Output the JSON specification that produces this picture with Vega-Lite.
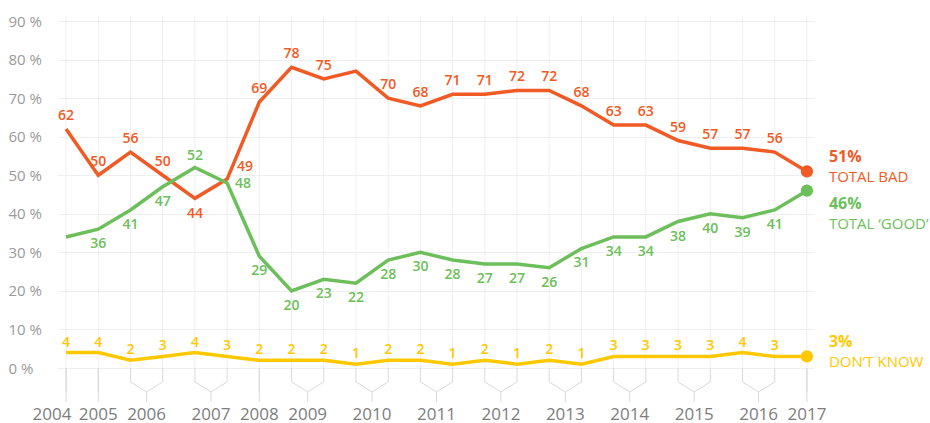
{
  "$schema": "https://vega.github.io/schema/vega-lite/v6.json",
  "width": 756,
  "height": 406,
  "autosize": {"type": "none"},
  "padding": {"left": 58, "top": 16, "right": 116, "bottom": 1},
  "background": "white",
  "config": {
    "view": {"stroke": null},
    "font": "Open Sans",
    "axisY": {
      "title": null, "domain": false, "ticks": false,
      "grid": true, "gridColor": "#efefef", "gridWidth": 1,
      "labelAlign": "left", "labelPadding": 50, "labelFontSize": 15,
      "labelColor": "#9a9a9a", "labelFont": "Open Sans", "labelBaseline": "middle"
    }
  },
  "datasets": {
    "series": [
      {"i": 0, "series": "TOTAL BAD", "value": 62}, {"i": 1, "series": "TOTAL BAD", "value": 50},
      {"i": 2, "series": "TOTAL BAD", "value": 56}, {"i": 3, "series": "TOTAL BAD", "value": 50},
      {"i": 4, "series": "TOTAL BAD", "value": 44}, {"i": 5, "series": "TOTAL BAD", "value": 49},
      {"i": 6, "series": "TOTAL BAD", "value": 69}, {"i": 7, "series": "TOTAL BAD", "value": 78},
      {"i": 8, "series": "TOTAL BAD", "value": 75}, {"i": 9, "series": "TOTAL BAD", "value": 77},
      {"i": 10, "series": "TOTAL BAD", "value": 70}, {"i": 11, "series": "TOTAL BAD", "value": 68},
      {"i": 12, "series": "TOTAL BAD", "value": 71}, {"i": 13, "series": "TOTAL BAD", "value": 71},
      {"i": 14, "series": "TOTAL BAD", "value": 72}, {"i": 15, "series": "TOTAL BAD", "value": 72},
      {"i": 16, "series": "TOTAL BAD", "value": 68}, {"i": 17, "series": "TOTAL BAD", "value": 63},
      {"i": 18, "series": "TOTAL BAD", "value": 63}, {"i": 19, "series": "TOTAL BAD", "value": 59},
      {"i": 20, "series": "TOTAL BAD", "value": 57}, {"i": 21, "series": "TOTAL BAD", "value": 57},
      {"i": 22, "series": "TOTAL BAD", "value": 56}, {"i": 23, "series": "TOTAL BAD", "value": 51},
      {"i": 0, "series": "TOTAL ‘GOOD’", "value": 34}, {"i": 1, "series": "TOTAL ‘GOOD’", "value": 36},
      {"i": 2, "series": "TOTAL ‘GOOD’", "value": 41}, {"i": 3, "series": "TOTAL ‘GOOD’", "value": 47},
      {"i": 4, "series": "TOTAL ‘GOOD’", "value": 52}, {"i": 5, "series": "TOTAL ‘GOOD’", "value": 48},
      {"i": 6, "series": "TOTAL ‘GOOD’", "value": 29}, {"i": 7, "series": "TOTAL ‘GOOD’", "value": 20},
      {"i": 8, "series": "TOTAL ‘GOOD’", "value": 23}, {"i": 9, "series": "TOTAL ‘GOOD’", "value": 22},
      {"i": 10, "series": "TOTAL ‘GOOD’", "value": 28}, {"i": 11, "series": "TOTAL ‘GOOD’", "value": 30},
      {"i": 12, "series": "TOTAL ‘GOOD’", "value": 28}, {"i": 13, "series": "TOTAL ‘GOOD’", "value": 27},
      {"i": 14, "series": "TOTAL ‘GOOD’", "value": 27}, {"i": 15, "series": "TOTAL ‘GOOD’", "value": 26},
      {"i": 16, "series": "TOTAL ‘GOOD’", "value": 31}, {"i": 17, "series": "TOTAL ‘GOOD’", "value": 34},
      {"i": 18, "series": "TOTAL ‘GOOD’", "value": 34}, {"i": 19, "series": "TOTAL ‘GOOD’", "value": 38},
      {"i": 20, "series": "TOTAL ‘GOOD’", "value": 40}, {"i": 21, "series": "TOTAL ‘GOOD’", "value": 39},
      {"i": 22, "series": "TOTAL ‘GOOD’", "value": 41}, {"i": 23, "series": "TOTAL ‘GOOD’", "value": 46},
      {"i": 0, "series": "DON’T KNOW", "value": 4}, {"i": 1, "series": "DON’T KNOW", "value": 4},
      {"i": 2, "series": "DON’T KNOW", "value": 2}, {"i": 3, "series": "DON’T KNOW", "value": 3},
      {"i": 4, "series": "DON’T KNOW", "value": 4}, {"i": 5, "series": "DON’T KNOW", "value": 3},
      {"i": 6, "series": "DON’T KNOW", "value": 2}, {"i": 7, "series": "DON’T KNOW", "value": 2},
      {"i": 8, "series": "DON’T KNOW", "value": 2}, {"i": 9, "series": "DON’T KNOW", "value": 1},
      {"i": 10, "series": "DON’T KNOW", "value": 2}, {"i": 11, "series": "DON’T KNOW", "value": 2},
      {"i": 12, "series": "DON’T KNOW", "value": 1}, {"i": 13, "series": "DON’T KNOW", "value": 2},
      {"i": 14, "series": "DON’T KNOW", "value": 1}, {"i": 15, "series": "DON’T KNOW", "value": 2},
      {"i": 16, "series": "DON’T KNOW", "value": 1}, {"i": 17, "series": "DON’T KNOW", "value": 3},
      {"i": 18, "series": "DON’T KNOW", "value": 3}, {"i": 19, "series": "DON’T KNOW", "value": 3},
      {"i": 20, "series": "DON’T KNOW", "value": 3}, {"i": 21, "series": "DON’T KNOW", "value": 4},
      {"i": 22, "series": "DON’T KNOW", "value": 3}, {"i": 23, "series": "DON’T KNOW", "value": 3}
    ],
    "years": [
      {"year": "2004", "from": 0, "to": 0}, {"year": "2005", "from": 1, "to": 1},
      {"year": "2006", "from": 2, "to": 3}, {"year": "2007", "from": 4, "to": 5},
      {"year": "2008", "from": 6, "to": 6}, {"year": "2009", "from": 7, "to": 8},
      {"year": "2010", "from": 9, "to": 10}, {"year": "2011", "from": 11, "to": 12},
      {"year": "2012", "from": 13, "to": 14}, {"year": "2013", "from": 15, "to": 16},
      {"year": "2014", "from": 17, "to": 18}, {"year": "2015", "from": 19, "to": 20},
      {"year": "2016", "from": 21, "to": 22}, {"year": "2017", "from": 23, "to": 23}
    ]
  },
  "layer": [
    {
      "data": {"name": "series"},
      "transform": [{"filter": "datum.series == 'DON’T KNOW'"}],
      "mark": {"type": "rule", "color": "#efefef", "strokeWidth": 1},
      "encoding": {
        "x": {"field": "i", "type": "quantitative", "scale": {"domain": [-0.25, 23.22], "nice": false, "zero": false}, "axis": null},
        "y": {
          "datum": 0, "type": "quantitative",
          "scale": {"domain": [-14, 91.3], "nice": false, "zero": false},
          "axis": {"values": [0, 10, 20, 30, 40, 50, 60, 70, 80, 90], "labelExpr": "datum.value + ' %'", "title": null}
        },
        "y2": {"datum": 91.3}
      }
    },
    {
      "data": {"name": "years"},
      "transform": [{"calculate": "(datum.from + datum.to) / 2", "as": "mid"}],
      "layer": [
        {
          "mark": {"type": "rule", "color": "#d9d9d9", "strokeWidth": 1},
          "encoding": {
            "x": {"field": "from", "type": "quantitative", "axis": null},
            "y": {"datum": 0, "type": "quantitative", "axis": {"values": [0, 10, 20, 30, 40, 50, 60, 70, 80, 90], "labelExpr": "datum.value + ' %'", "title": null}},
            "y2": {"datum": -3.6}
          }
        },
        {
          "mark": {"type": "rule", "color": "#d9d9d9", "strokeWidth": 1},
          "encoding": {
            "x": {"field": "to", "type": "quantitative", "axis": null},
            "y": {"datum": 0, "type": "quantitative", "axis": {"values": [0, 10, 20, 30, 40, 50, 60, 70, 80, 90], "labelExpr": "datum.value + ' %'", "title": null}},
            "y2": {"datum": -3.6}
          }
        },
        {
          "mark": {"type": "rule", "color": "#d9d9d9", "strokeWidth": 1},
          "encoding": {
            "x": {"field": "from", "type": "quantitative", "axis": null},
            "x2": {"field": "mid"},
            "y": {"datum": -3.6, "type": "quantitative", "axis": {"values": [0, 10, 20, 30, 40, 50, 60, 70, 80, 90], "labelExpr": "datum.value + ' %'", "title": null}},
            "y2": {"datum": -6.2}
          }
        },
        {
          "mark": {"type": "rule", "color": "#d9d9d9", "strokeWidth": 1},
          "encoding": {
            "x": {"field": "to", "type": "quantitative", "axis": null},
            "x2": {"field": "mid"},
            "y": {"datum": -3.6, "type": "quantitative", "axis": {"values": [0, 10, 20, 30, 40, 50, 60, 70, 80, 90], "labelExpr": "datum.value + ' %'", "title": null}},
            "y2": {"datum": -6.2}
          }
        },
        {
          "mark": {"type": "rule", "color": "#d9d9d9", "strokeWidth": 1},
          "encoding": {
            "x": {"field": "mid", "type": "quantitative", "axis": null},
            "y": {"datum": -6.2, "type": "quantitative", "axis": {"values": [0, 10, 20, 30, 40, 50, 60, 70, 80, 90], "labelExpr": "datum.value + ' %'", "title": null}},
            "y2": {"datum": -8.8}
          }
        },
        {
          "transform": [{"filter": "datum.year != '2004'"}],
          "mark": {"type": "text", "color": "#7d7d7d", "fontSize": 17, "baseline": "middle", "align": "center"},
          "encoding": {
            "x": {"field": "mid", "type": "quantitative", "axis": null},
            "y": {"datum": -12.2, "type": "quantitative", "axis": {"values": [0, 10, 20, 30, 40, 50, 60, 70, 80, 90], "labelExpr": "datum.value + ' %'", "title": null}},
            "text": {"field": "year"}
          }
        },
        {
          "transform": [{"filter": "datum.year == '2004'"}],
          "mark": {"type": "text", "color": "#7d7d7d", "fontSize": 17, "baseline": "middle", "align": "center", "dx": -14},
          "encoding": {
            "x": {"field": "mid", "type": "quantitative", "axis": null},
            "y": {"datum": -12.2, "type": "quantitative", "axis": {"values": [0, 10, 20, 30, 40, 50, 60, 70, 80, 90], "labelExpr": "datum.value + ' %'", "title": null}},
            "text": {"field": "year"}
          }
        }
      ]
    },
    {
      "data": {"name": "series"},
      "encoding": {
        "x": {"field": "i", "type": "quantitative", "axis": null},
        "y": {"field": "value", "type": "quantitative", "axis": {"values": [0, 10, 20, 30, 40, 50, 60, 70, 80, 90], "labelExpr": "datum.value + ' %'", "title": null}},
        "color": {
          "field": "series", "type": "nominal", "legend": null,
          "scale": {"domain": ["TOTAL BAD", "TOTAL ‘GOOD’", "DON’T KNOW"], "range": ["#f15a24", "#6cbf5a", "#ffc800"]}
        }
      },
      "layer": [
        {"mark": {"type": "line", "strokeWidth": 3.5, "strokeJoin": "miter"}},
        {
          "transform": [{"filter": "datum.i == 23"}],
          "mark": {"type": "point", "filled": true, "opacity": 1, "size": 150}
        },
        {
          "transform": [{"filter": "datum.series == 'TOTAL BAD' && indexof([4, 5, 9, 23], datum.i) < 0"}],
          "mark": {"type": "text", "fontSize": 14, "fontWeight": 600, "baseline": "middle", "dy": -13},
          "encoding": {"text": {"field": "value"}}
        },
        {
          "transform": [{"filter": "datum.series == 'TOTAL BAD' && datum.i == 4"}],
          "mark": {"type": "text", "fontSize": 14, "fontWeight": 600, "baseline": "middle", "dy": 16},
          "encoding": {"text": {"field": "value"}}
        },
        {
          "transform": [{"filter": "datum.series == 'TOTAL BAD' && datum.i == 5"}],
          "mark": {"type": "text", "fontSize": 14, "fontWeight": 600, "baseline": "middle", "dx": 18, "dy": -12},
          "encoding": {"text": {"field": "value"}}
        },
        {
          "transform": [{"filter": "datum.series == 'TOTAL ‘GOOD’' && indexof([0, 4, 5, 23], datum.i) < 0"}],
          "mark": {"type": "text", "fontSize": 14, "fontWeight": 600, "baseline": "middle", "dy": 15},
          "encoding": {"text": {"field": "value"}}
        },
        {
          "transform": [{"filter": "datum.series == 'TOTAL ‘GOOD’' && datum.i == 4"}],
          "mark": {"type": "text", "fontSize": 14, "fontWeight": 600, "baseline": "middle", "dy": -12},
          "encoding": {"text": {"field": "value"}}
        },
        {
          "transform": [{"filter": "datum.series == 'TOTAL ‘GOOD’' && datum.i == 5"}],
          "mark": {"type": "text", "fontSize": 14, "fontWeight": 600, "baseline": "middle", "dx": 16, "dy": 1},
          "encoding": {"text": {"field": "value"}}
        },
        {
          "transform": [{"filter": "datum.series == 'DON’T KNOW' && datum.i != 23"}],
          "mark": {"type": "text", "fontSize": 14, "fontWeight": 600, "baseline": "middle", "dy": -10},
          "encoding": {"text": {"field": "value"}}
        },
        {
          "transform": [
            {"filter": "datum.i == 23 && datum.series != 'TOTAL ‘GOOD’'"},
            {"calculate": "datum.value + '%'", "as": "pct"}
          ],
          "mark": {"type": "text", "fontSize": 16, "fontWeight": "bold", "align": "left", "baseline": "middle", "dx": 22, "dy": -14},
          "encoding": {"text": {"field": "pct"}}
        },
        {
          "transform": [{"filter": "datum.i == 23 && datum.series != 'TOTAL ‘GOOD’'"}],
          "mark": {"type": "text", "fontSize": 15, "align": "left", "baseline": "middle", "dx": 22, "dy": 6},
          "encoding": {"text": {"field": "series"}}
        },
        {
          "transform": [
            {"filter": "datum.i == 23 && datum.series == 'TOTAL ‘GOOD’'"},
            {"calculate": "datum.value + '%'", "as": "pct"}
          ],
          "mark": {"type": "text", "fontSize": 16, "fontWeight": "bold", "align": "left", "baseline": "middle", "dx": 22, "dy": 13},
          "encoding": {"text": {"field": "pct"}}
        },
        {
          "transform": [{"filter": "datum.i == 23 && datum.series == 'TOTAL ‘GOOD’'"}],
          "mark": {"type": "text", "fontSize": 15, "align": "left", "baseline": "middle", "dx": 22, "dy": 33},
          "encoding": {"text": {"field": "series"}}
        }
      ]
    }
  ]
}
